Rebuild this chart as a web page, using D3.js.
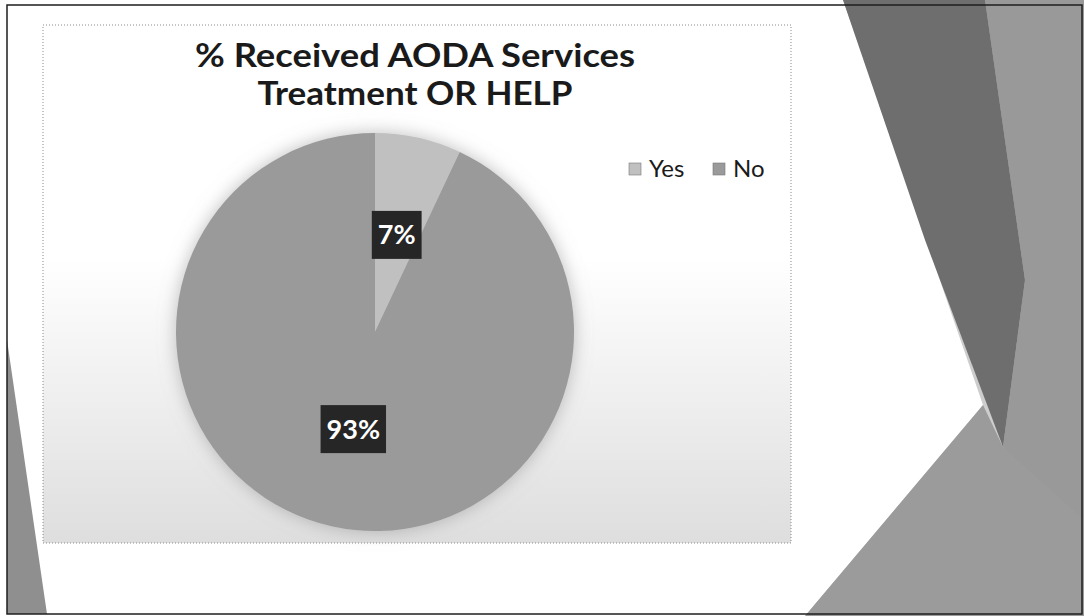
<!DOCTYPE html>
<html>
<head>
<meta charset="utf-8">
<script src="https://cdn.jsdelivr.net/npm/d3@7/dist/d3.min.js"></script>
<style>
  html, body { margin: 0; padding: 0; background: #ffffff; }
  svg { display: block; }
</style>
</head>
<body>
<div id="chart"></div>
<script>
// Chart values
const categories = ["Yes", "No"];
const values = [7, 93];
const valueLabels = ["7%", "93%"];
const titleLines = ["% Received AODA Services", "Treatment OR HELP"];

const W = 1084, H = 616;
const sliceColors = ["#c0c0c0", "#9a9a9a"];

const svg = d3.select("#chart").append("svg")
  .attr("width", W).attr("height", H);

const defs = svg.append("defs");

// Vertical wash in the lower part of the chart area
const wash = defs.append("linearGradient")
  .attr("id", "areaWash").attr("x1", 0).attr("y1", 0).attr("x2", 0).attr("y2", 1);
wash.append("stop").attr("offset", "0%").attr("stop-color", "#ffffff");
wash.append("stop").attr("offset", "45%").attr("stop-color", "#ffffff");
wash.append("stop").attr("offset", "100%").attr("stop-color", "#dedede");

// Soft halo around the pie
const halo = defs.append("filter").attr("id", "pieHalo")
  .attr("x", "-20%").attr("y", "-20%").attr("width", "140%").attr("height", "140%");
halo.append("feGaussianBlur").attr("in", "SourceAlpha").attr("stdDeviation", 9).attr("result", "b");
halo.append("feFlood").attr("flood-color", "#888888").attr("flood-opacity", 0.55);
halo.append("feComposite").attr("in2", "b").attr("operator", "in").attr("result", "s");
const hm = halo.append("feMerge");
hm.append("feMergeNode").attr("in", "s");
hm.append("feMergeNode").attr("in", "SourceGraphic");

// Slide decoration: facets on the right edge and a sliver on the left
const line = d3.line();
const deco = svg.append("g");
deco.append("path").attr("d", line([[843,0],[1084,0],[1084,616],[805,616],[983,405]]) + "Z")
  .attr("fill", "#cdcdcd");
deco.append("path").attr("d", line([[985,0],[1084,0],[1084,616],[1003,447],[1025,280]]) + "Z")
  .attr("fill", "#999999");
deco.append("path").attr("d", line([[805,616],[983,405],[1003,447],[1084,520],[1084,616]]) + "Z")
  .attr("fill", "#9b9b9b");
deco.append("path").attr("d", line([[843,0],[985,0],[1025,280],[1003,447],[925,240]]) + "Z")
  .attr("fill", "#6e6e6e");
deco.append("path").attr("d", line([[7,340],[47,614],[7,614]]) + "Z")
  .attr("fill", "#8f8f8f");

// Slide border
svg.append("rect").attr("x", 7).attr("y", 5).attr("width", 1075).attr("height", 609)
  .attr("fill", "none").attr("stroke", "#1e1e1e").attr("stroke-width", 1.5);

// Chart area
const area = { x: 43, y: 25, w: 748, h: 518 };
svg.append("rect")
  .attr("x", area.x).attr("y", area.y).attr("width", area.w).attr("height", area.h)
  .attr("fill", "url(#areaWash)")
  .attr("stroke", "#8a8a8a").attr("stroke-width", 1).attr("stroke-dasharray", "1,2");

// Title
const title = svg.append("text")
  .attr("text-anchor", "middle")
  .attr("font-family", "Lato, 'Open Sans', sans-serif")
  .attr("font-weight", 700)
  .attr("font-size", 33)
  .attr("fill", "#1a1a1a");
const titleWidths = [440, 315];
const titleBaselines = [67, 105];
titleLines.forEach((t, i) => {
  title.append("tspan").attr("x", 415).attr("y", titleBaselines[i])
    .attr("textLength", titleWidths[i]).attr("lengthAdjust", "spacingAndGlyphs")
    .text(t);
});

// Pie
const cx = 375, cy = 332, R = 199;
const pie = d3.pie().sort(null).value(d => d.value).startAngle(0).endAngle(2 * Math.PI);
const data = categories.map((c, i) => ({ category: c, value: values[i], label: valueLabels[i] }));
const arcs = pie(data);
const arc = d3.arc().innerRadius(0).outerRadius(R);
const color = d3.scaleOrdinal().domain(categories).range(sliceColors);

const pieG = svg.append("g").attr("transform", `translate(${cx},${cy})`);
pieG.append("g").attr("filter", "url(#pieHalo)")
  .selectAll("path").data(arcs).join("path")
  .attr("d", arc)
  .attr("fill", d => color(d.data.category));

// Data labels on dark boxes
const labelG = pieG.selectAll("g.lbl").data(arcs).join("g")
  .attr("class", "lbl")
  .attr("transform", d => `translate(${arc.centroid(d)})`);
labelG.each(function(d) {
  const g = d3.select(this);
  const rect = g.append("rect").attr("fill", "#262626");
  const t = g.append("text")
    .attr("text-anchor", "middle")
    .attr("dy", "0.35em")
    .attr("font-family", "Lato, 'Open Sans', sans-serif")
    .attr("font-weight", 700)
    .attr("font-size", 27)
    .attr("fill", "#ffffff")
    .text(d.data.label);
  const bb = t.node().getBBox();
  const padX = 6;
  rect.attr("x", -bb.width / 2 - padX).attr("y", -24)
    .attr("width", bb.width + 2 * padX).attr("height", 48);
});

// Legend
const legendX = [629, 713];
const legend = svg.append("g");
const items = legend.selectAll("g").data(categories).join("g")
  .attr("transform", (d, i) => `translate(${legendX[i]},163)`);
items.append("rect").attr("width", 12).attr("height", 12)
  .attr("fill", d => color(d)).attr("stroke", "#777").attr("stroke-width", 0.6);
items.append("text").attr("x", 20).attr("y", 14)
  .attr("font-family", "Lato, 'Open Sans', sans-serif")
  .attr("font-size", 24)
  .attr("fill", "#1a1a1a")
  .text(d => d);
</script>
</body>
</html>
